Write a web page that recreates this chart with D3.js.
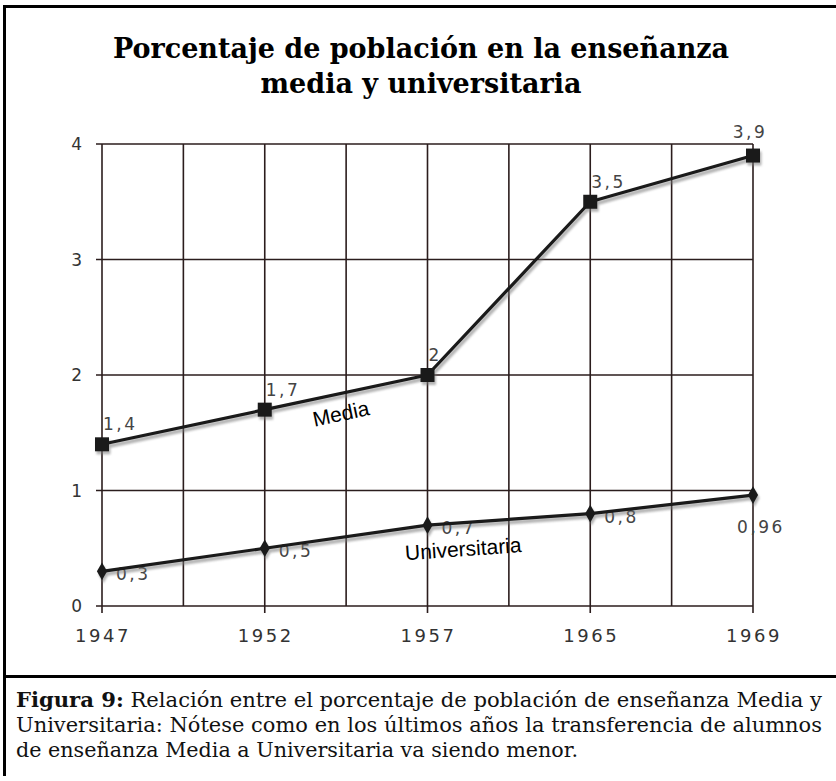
<!DOCTYPE html>
<html>
<head>
<meta charset="utf-8">
<script src="https://cdn.jsdelivr.net/npm/d3@7"></script>
<style>
  html, body { margin: 0; padding: 0; background: #fff; }
  svg { display: block; }
</style>
</head>
<body>
<svg id="chart" width="836" height="781"></svg>
<script>
// ---- data ----
const years = ["1947", "1952", "1957", "1965", "1969"];
const media = [1.4, 1.7, 2, 3.5, 3.9];
const universitaria = [0.3, 0.5, 0.7, 0.8, 0.96];
const mediaLabels = ["1,4", "1,7", "2", "3,5", "3,9"];
const univLabels = ["0,3", "0,5", "0,7", "0,8", "0,96"];
const yTicks = [0, 1, 2, 3, 4];
const yTickLabels = ["0", "1", "2", "3", "4"];
const seriesNames = ["Media", "Universitaria"];
const titleLines = ["Porcentaje de población en la enseñanza", "media y universitaria"];
const captionBold = "Figura 9:";
const captionLines = [
  " Relación entre el porcentaje de población de enseñanza Media y",
  "Universitaria: Nótese como en los últimos años la transferencia de alumnos",
  "de enseñanza Media a Universitaria va siendo menor."
];

const svg = d3.select("#chart");
const W = 836, H = 781;
const gridColor = "#2b1d1d";
const labelFont = "'DejaVu Sans', Verdana, sans-serif";

// frame
svg.append("line").attr("x1", 4.5).attr("x2", 4.5).attr("y1", 5).attr("y2", 776)
  .attr("stroke", "#000").attr("stroke-width", 3);
svg.append("line").attr("x1", 3).attr("x2", W).attr("y1", 6.5).attr("y2", 6.5)
  .attr("stroke", "#000").attr("stroke-width", 3);
svg.append("line").attr("x1", 3).attr("x2", W).attr("y1", 676.5).attr("y2", 676.5)
  .attr("stroke", "#000").attr("stroke-width", 3);

// title
svg.append("g").selectAll("text").data(titleLines).join("text")
  .attr("x", 421).attr("y", (d, i) => 58 + i * 35)
  .attr("text-anchor", "middle")
  .attr("font-family", "'DejaVu Serif', serif")
  .attr("font-weight", "bold")
  .attr("font-size", 27)
  .attr("fill", "#000")
  .text(d => d);

// scales
const x = d3.scalePoint().domain(years).range([102, 753]);
const y = d3.scaleLinear().domain([0, 4]).range([606, 144]);
const step = x.step();

// grid
const grid = svg.append("g");
const vx = [];
years.forEach((yr, i) => {
  vx.push({ x: x(yr), major: true });
  if (i < years.length - 1) vx.push({ x: x(yr) + step / 2, major: false });
});
grid.selectAll("line.v").data(vx).join("line")
  .attr("class", "v")
  .attr("x1", d => d.x).attr("x2", d => d.x)
  .attr("y1", y(4)).attr("y2", d => d.major ? y(0) + 7 : y(0))
  .attr("stroke", gridColor).attr("stroke-width", 1.6);
grid.selectAll("line.h").data(yTicks).join("line")
  .attr("class", "h")
  .attr("x1", x.range()[0] - 6).attr("x2", x.range()[1])
  .attr("y1", d => y(d)).attr("y2", d => y(d))
  .attr("stroke", gridColor).attr("stroke-width", 1.6);

// axis labels
svg.append("g").selectAll("text").data(yTicks).join("text")
  .attr("x", 82).attr("y", d => y(d) + 6)
  .attr("text-anchor", "end")
  .attr("font-family", labelFont).attr("font-size", 17)
  .attr("fill", "#333")
  .text((d, i) => yTickLabels[i]);
svg.append("g").selectAll("text").data(years).join("text")
  .attr("x", d => x(d) + 1).attr("y", 642)
  .attr("text-anchor", "middle")
  .attr("font-family", labelFont).attr("font-size", 18)
  .attr("letter-spacing", 2.5)
  .attr("fill", "#333")
  .text(d => d);

// value labels (drawn under the lines)
const mediaPts = years.map((yr, i) => ({ x: x(yr), y: y(media[i]), label: mediaLabels[i], i }));
const univPts = years.map((yr, i) => ({ x: x(yr), y: y(universitaria[i]), label: univLabels[i], i }));
const last = years.length - 1;

svg.append("g").selectAll("text").data(mediaPts).join("text")
  .attr("x", d => d.i === last ? d.x - 3 : d.x + 1)
  .attr("y", d => d.i === last ? d.y - 18 : d.y - 14)
  .attr("text-anchor", d => d.i === last ? "middle" : "start")
  .attr("font-family", labelFont).attr("font-size", 17)
  .attr("letter-spacing", 2.5)
  .attr("fill", "#444")
  .text(d => d.label);
svg.append("g").selectAll("text").data(univPts).join("text")
  .attr("x", d => d.i === last ? d.x + 8 : d.x + 14)
  .attr("y", d => d.i === last ? d.y + 38 : d.y + 9)
  .attr("text-anchor", d => d.i === last ? "middle" : "start")
  .attr("font-family", labelFont).attr("font-size", 17)
  .attr("letter-spacing", 2.5)
  .attr("fill", "#444")
  .text(d => d.label);

// blur filter for shadow
const defs = svg.append("defs");
defs.append("filter").attr("id", "blur").append("feGaussianBlur").attr("stdDeviation", 0.8);

const line = d3.line().x(d => d.x).y(d => d.y);

function drawSeries(pts, markerType, size) {
  const g = svg.append("g");
  const sh = g.append("g").attr("transform", "translate(1.5,3)").attr("filter", "url(#blur)").attr("opacity", 0.55);
  sh.append("path").attr("d", line(pts)).attr("fill", "none").attr("stroke", "#777").attr("stroke-width", 4);
  sh.selectAll("path.m").data(pts).join("path").attr("class", "m")
    .attr("transform", d => `translate(${d.x},${d.y})`)
    .attr("d", d3.symbol().type(markerType).size(size))
    .attr("fill", "#777");
  g.append("path").attr("d", line(pts)).attr("fill", "none")
    .attr("stroke", "#1a1a1a").attr("stroke-width", 3.2).attr("stroke-linejoin", "round");
  g.selectAll("path.mk").data(pts).join("path").attr("class", "mk")
    .attr("transform", d => `translate(${d.x},${d.y})`)
    .attr("d", d3.symbol().type(markerType).size(size))
    .attr("fill", "#1a1a1a");
}
drawSeries(mediaPts, d3.symbolSquare, 196);
drawSeries(univPts, d3.symbolDiamond, 90);

// series name labels, placed along their lines
function seriesLabel(pts, k, t, dy, text) {
  const a = pts[k], b = pts[k + 1];
  const cx = a.x + (b.x - a.x) * t;
  const cy = a.y + (b.y - a.y) * t + dy;
  const ang = Math.atan2(b.y - a.y, b.x - a.x) * 180 / Math.PI;
  svg.append("text")
    .attr("transform", `translate(${cx},${cy}) rotate(${ang})`)
    .attr("text-anchor", "middle")
    .attr("dominant-baseline", "middle")
    .attr("font-family", "'Liberation Sans', Arial, sans-serif")
    .attr("font-size", 21)
    .attr("fill", "#000")
    .text(text);
}
seriesLabel(mediaPts, 1, 0.47, 22, seriesNames[0]);
seriesLabel(univPts, 2, 0.22, 28, seriesNames[1]);

// caption
const cap = svg.append("g").attr("font-family", "'DejaVu Serif', serif").attr("font-size", 20.5).attr("fill", "#111");
const capL = 16, capR = 822;
const t1 = cap.append("text").attr("x", capL).attr("y", 707)
  .attr("textLength", capR - capL).attr("lengthAdjust", "spacingAndGlyphs");
t1.append("tspan").attr("font-weight", "bold").text(captionBold);
t1.append("tspan").text(captionLines[0]);
cap.append("text").attr("x", capL).attr("y", 732)
  .attr("textLength", capR - capL).attr("lengthAdjust", "spacingAndGlyphs")
  .text(captionLines[1]);
cap.append("text").attr("x", capL).attr("y", 757)
  .attr("textLength", 562).attr("lengthAdjust", "spacingAndGlyphs")
  .text(captionLines[2]);
</script>
</body>
</html>
